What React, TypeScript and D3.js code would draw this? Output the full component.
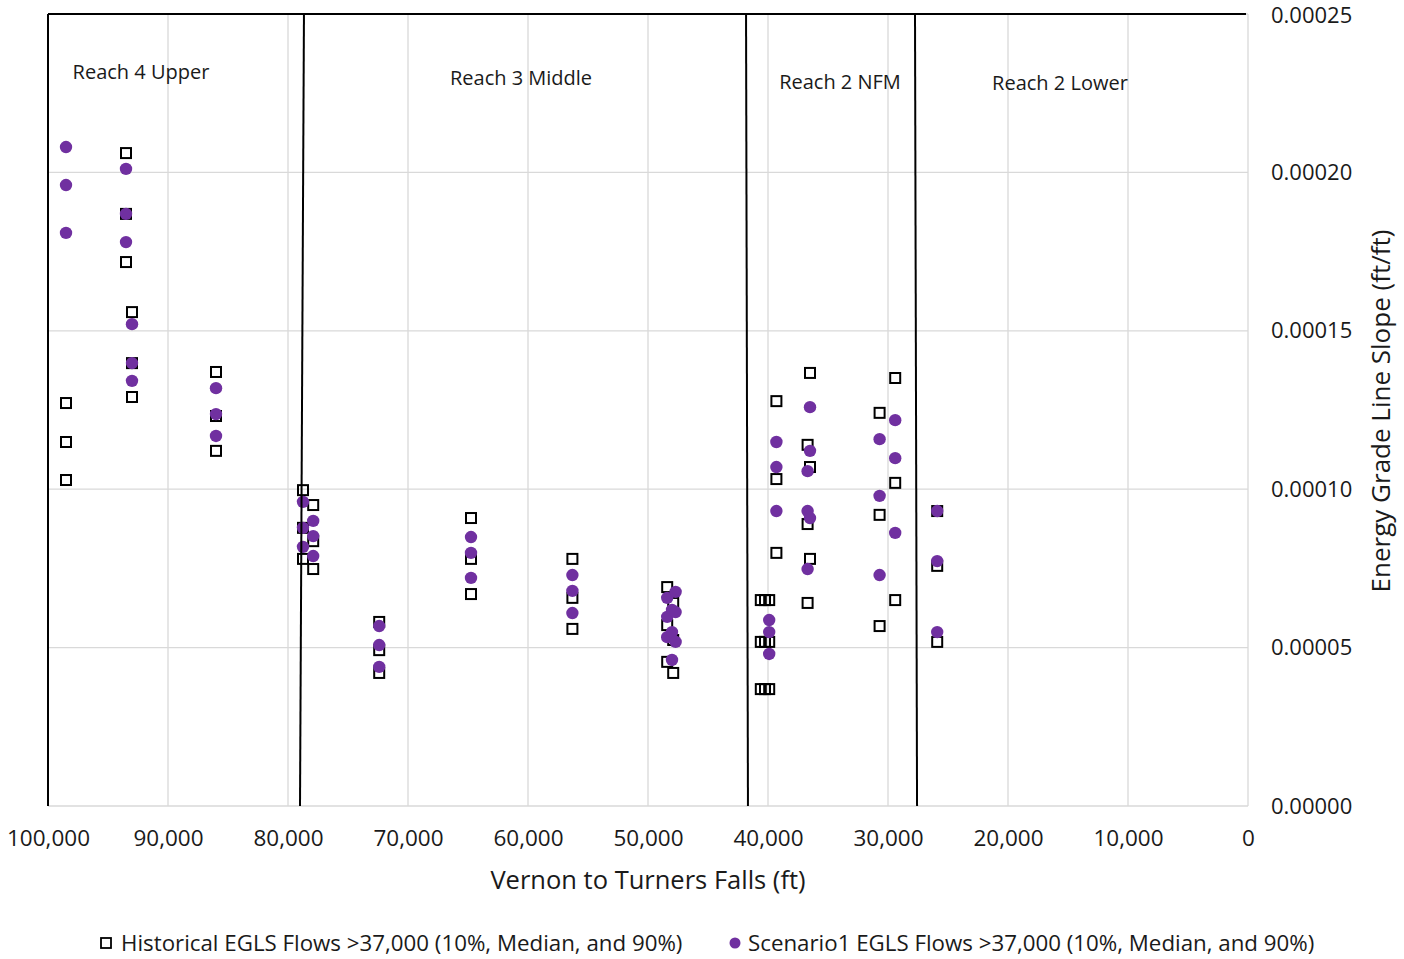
import * as d3 from "d3";
import { useEffect, useRef } from "react";

// station (ft from Turners Falls) and EGLS values, x1e-5
const histStations = [98500, 93500, 93000, 86000, 78750, 77900, 72400, 64750, 56300, 48400, 47900, 40600, 40250, 39900, 39300, 36700, 36500, 30700, 29400, 25900];
const histLow = [10.29, 17.17, 12.91, 11.21, 7.8, 7.48, 4.2, 6.69, 5.59, 4.55, 4.2, 3.69, 3.69, 3.69, 7.99, 6.41, 7.8, 5.68, 6.5, 5.18];
const histMid = [11.49, 18.69, 13.98, 12.31, 8.78, 8.36, 4.92, 7.8, 6.57, 5.71, 5.24, 5.18, 5.18, 5.18, 10.32, 8.9, 10.7, 9.19, 10.2, 7.58];
const histHigh = [12.72, 20.61, 15.59, 13.7, 9.97, 9.5, 5.81, 9.09, 7.8, 6.91, 6.41, 6.5, 6.5, 6.5, 12.78, 11.4, 13.67, 12.41, 13.51, 9.31];

const scenStations = [98500, 93500, 93000, 86000, 78750, 77900, 72400, 64750, 56300, 48400, 48000, 47700, 39900, 39300, 36700, 36500, 30700, 29400, 25900];
const scenLow = [18.09, 17.8, 13.42, 11.68, 8.18, 7.89, 4.39, 7.2, 6.09, 5.33, 4.61, 5.18, 4.8, 9.31, 7.48, 9.09, 7.29, 8.62, 5.49];
const scenMid = [19.6, 18.69, 13.98, 12.37, 8.78, 8.52, 5.08, 7.99, 6.79, 5.97, 5.49, 6.12, 5.49, 10.7, 9.31, 11.21, 9.79, 10.98, 7.73];
const scenHigh = [20.8, 20.11, 15.21, 13.19, 9.6, 9.0, 5.68, 8.49, 7.29, 6.57, 6.19, 6.76, 5.87, 11.49, 10.57, 12.59, 11.58, 12.18, 9.31];

const reachNames = ["Reach 4 Upper", "Reach 3 Middle", "Reach 2 NFM", "Reach 2 Lower"];
const reachLabelX = [92250, 60580, 34000, 15670];
const reachLabelY = [23.17, 22.98, 22.85, 22.82];
const reachLineTop = [78670, 41830, 27750];
const reachLineBottom = [79000, 41670, 27580];

const xTicks = [100000, 90000, 80000, 70000, 60000, 50000, 40000, 30000, 20000, 10000, 0];
const yTicks = [0, 0.00005, 0.0001, 0.00015, 0.0002, 0.00025];

const legendLabels = [
  "Historical EGLS Flows >37,000 (10%, Median, and 90%)",
  "Scenario1 EGLS Flows >37,000 (10%, Median, and 90%)",
];

const FONT = "'Open Sans', sans-serif";
const TEXT = "#1a1a1a";
const PURPLE = "#7030a0";

const App = () => {
  const chartRef = useRef(null);
  const width = 1404;
  const height = 959;
  const margin = { top: 14, bottom: 153, left: 48, right: 156 };

  useEffect(() => {
    document.body.style.margin = "0";
    const svg = d3.select(chartRef.current);
    svg.selectAll("*").remove();

    const x = d3.scaleLinear().domain([100000, 0]).range([margin.left, width - margin.right]);
    const y = d3.scaleLinear().domain([0, 0.00025]).range([height - margin.bottom, margin.top]);

    svg.append("rect").attr("width", width).attr("height", height).attr("fill", "#fff");

    // gridlines
    const grid = svg.append("g").attr("stroke", "#d9d9d9").attr("stroke-width", 1.3);
    xTicks.slice(1).forEach((t) => {
      grid.append("line").attr("x1", x(t)).attr("x2", x(t)).attr("y1", y(0.00025)).attr("y2", y(0));
    });
    yTicks.forEach((t) => {
      grid.append("line").attr("x1", x(100000)).attr("x2", x(0)).attr("y1", y(t)).attr("y2", y(t));
    });

    // axes
    const xAxis = d3.axisBottom(x).tickValues(xTicks).tickSize(0).tickPadding(24).tickFormat(d3.format(","));
    const gx = svg.append("g").attr("transform", `translate(0, ${y(0)})`).call(xAxis);
    gx.select(".domain").remove();
    gx.selectAll("text").attr("font-family", FONT).attr("font-size", 22.5).attr("fill", TEXT);

    const yAxis = d3.axisRight(y).tickValues(yTicks).tickSize(0).tickPadding(23).tickFormat(d3.format(".5f"));
    const gy = svg.append("g").attr("transform", `translate(${x(0)}, 0)`).call(yAxis);
    gy.select(".domain").remove();
    gy.selectAll("text").attr("font-family", FONT).attr("font-size", 22).attr("fill", TEXT);
    gy.selectAll("text").filter((d) => d === 0.00025).attr("dy", "0.4em");

    // black frame lines: left and top
    svg.append("line").attr("x1", x(100000)).attr("x2", x(100000)).attr("y1", y(0.00025)).attr("y2", y(0))
      .attr("stroke", "#000").attr("stroke-width", 2);
    svg.append("line").attr("x1", x(100000)).attr("x2", x(0) - 2).attr("y1", y(0.00025)).attr("y2", y(0.00025))
      .attr("stroke", "#000").attr("stroke-width", 2);

    // historical squares
    const histPts = [];
    histStations.forEach((s, i) => {
      [histLow[i], histMid[i], histHigh[i]].forEach((v) => histPts.push({ s, v: v * 1e-5 }));
    });
    const scenPts = [];
    scenStations.forEach((s, i) => {
      [scenLow[i], scenMid[i], scenHigh[i]].forEach((v) => scenPts.push({ s, v: v * 1e-5 }));
    });

    svg.selectAll(".hist")
      .data(histPts)
      .enter()
      .append("rect")
      .attr("class", "hist")
      .attr("x", (d) => x(d.s) - 5)
      .attr("y", (d) => y(d.v) - 5)
      .attr("width", 10)
      .attr("height", 10)
      .attr("fill", "none")
      .attr("stroke", "#000")
      .attr("stroke-width", 2);

    svg.selectAll(".scen")
      .data(scenPts)
      .enter()
      .append("circle")
      .attr("class", "scen")
      .attr("cx", (d) => x(d.s))
      .attr("cy", (d) => y(d.v))
      .attr("r", 6.2)
      .attr("fill", PURPLE);

    // reach boundaries
    reachLineTop.forEach((t, i) => {
      svg.append("line")
        .attr("x1", x(t)).attr("y1", y(0.00025))
        .attr("x2", x(reachLineBottom[i])).attr("y2", y(0))
        .attr("stroke", "#000").attr("stroke-width", 2);
    });

    reachNames.forEach((n, i) => {
      svg.append("text")
        .attr("x", x(reachLabelX[i]))
        .attr("y", y(reachLabelY[i] * 1e-5))
        .attr("dy", "0.35em")
        .attr("text-anchor", "middle")
        .attr("font-family", FONT)
        .attr("font-size", 20)
        .attr("fill", TEXT)
        .text(n);
    });

    // axis titles
    svg.append("text")
      .attr("x", 648).attr("y", 880)
      .attr("dy", "0.35em")
      .attr("text-anchor", "middle")
      .attr("font-family", FONT).attr("font-size", 25.5).attr("fill", TEXT)
      .text("Vernon to Turners Falls (ft)");
    svg.append("text")
      .attr("transform", `translate(1381, 411) rotate(-90)`)
      .attr("dy", "0.35em")
      .attr("text-anchor", "middle")
      .attr("font-family", FONT).attr("font-size", 26).attr("fill", TEXT)
      .text("Energy Grade Line Slope (ft/ft)");

    // legend
    const lg = svg.append("g").attr("transform", "translate(0, 943)");
    lg.append("rect").attr("x", 101).attr("y", -5).attr("width", 10).attr("height", 10)
      .attr("fill", "none").attr("stroke", "#000").attr("stroke-width", 1.8);
    lg.append("text").attr("x", 121).attr("dy", "0.35em")
      .attr("font-family", FONT).attr("font-size", 22.3).attr("fill", TEXT).text(legendLabels[0]);
    lg.append("circle").attr("cx", 735).attr("cy", 0).attr("r", 5.5).attr("fill", PURPLE);
    lg.append("text").attr("x", 748).attr("dy", "0.35em")
      .attr("font-family", FONT).attr("font-size", 22.3).attr("fill", TEXT).text(legendLabels[1]);
  }, []);

  return <svg ref={chartRef} width={width} height={height} style={{ display: "block" }}></svg>;
};

export default App;
